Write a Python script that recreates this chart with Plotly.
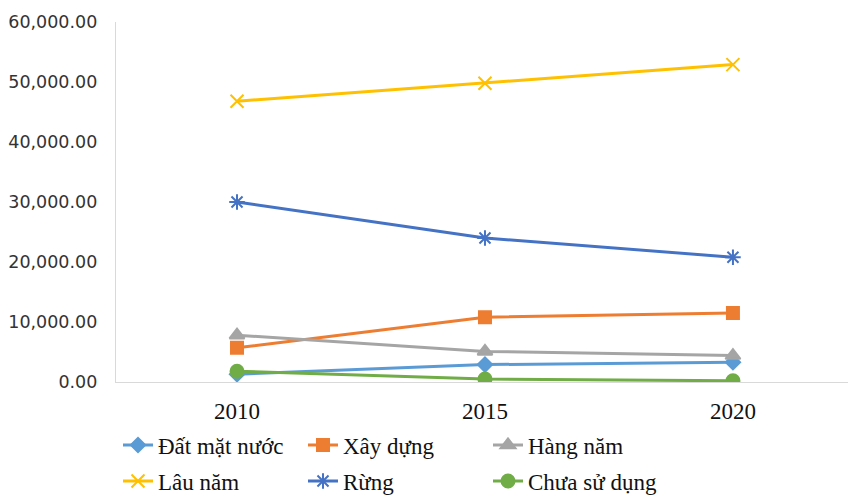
import plotly.graph_objects as go

years = ["2010", "2015", "2020"]
series_names = ["Đất mặt nước", "Xây dựng", "Hàng năm", "Lâu năm", "Rừng", "Chưa sử dụng"]
dat_mat_nuoc = [1300, 2900, 3300]
xay_dung = [5700, 10800, 11500]
hang_nam = [7800, 5100, 4400]
lau_nam = [46800, 49800, 52900]
rung = [30000, 24000, 20800]
chua_su_dung = [1800, 500, 200]
y_ticks = [0, 10000, 20000, 30000, 40000, 50000, 60000]

values = [dat_mat_nuoc, xay_dung, hang_nam, lau_nam, rung, chua_su_dung]
colors = ["#5B9BD5", "#ED7D31", "#A5A5A5", "#FFC000", "#4472C4", "#70AD47"]
symbols = ["diamond", "square", "triangle-up", "x-thin", "asterisk", "circle"]
sizes = [11, 12, 13, 13, 13, 13]
legends = ["legend", "legend", "legend", "legend2", "legend2", "legend2"]

fig = go.Figure()
for name, vals, c, s, sz, lg in zip(series_names, values, colors, symbols, sizes, legends):
    fig.add_trace(go.Scatter(
        x=years, y=vals, name=name, mode="lines+markers",
        line=dict(color=c, width=3),
        marker=dict(symbol=s, size=sz, color=c, line=dict(color=c, width=2)),
        legend=lg,
    ))

legend_font = dict(family="Liberation Serif", size=23, color="#111111")
common_legend = dict(
    orientation="h", xref="container", yref="container",
    xanchor="left", yanchor="middle", entrywidth=140, entrywidthmode="pixels",
    font=legend_font, bgcolor="rgba(0,0,0,0)", borderwidth=0,
)

fig.update_layout(
    width=848, height=497,
    margin=dict(l=116, r=0, t=22, b=115),
    paper_bgcolor="white", plot_bgcolor="white",
    showlegend=True,
    legend=dict(x=118 / 848, y=1 - 445 / 497, **common_legend),
    legend2=dict(x=118 / 848, y=1 - 481 / 497, **common_legend),
    xaxis=dict(
        type="category", range=[-0.488, 2.464],
        showline=True, linecolor="#D9D9D9", linewidth=1.3,
        showgrid=False, zeroline=False, ticks="",
        tickfont=dict(family="Liberation Serif", size=23, color="#111111"),
        ticklabelstandoff=8,
    ),
    yaxis=dict(
        range=[0, 60000], tickvals=y_ticks, tickformat=",.2f",
        showline=True, linecolor="#D9D9D9", linewidth=1.3,
        showgrid=False, zeroline=False, ticks="",
        tickfont=dict(family="DejaVu Sans", size=17.5, color="#333333"),
        ticklabelstandoff=14,
    ),
)

fig.write_html("out.html")
